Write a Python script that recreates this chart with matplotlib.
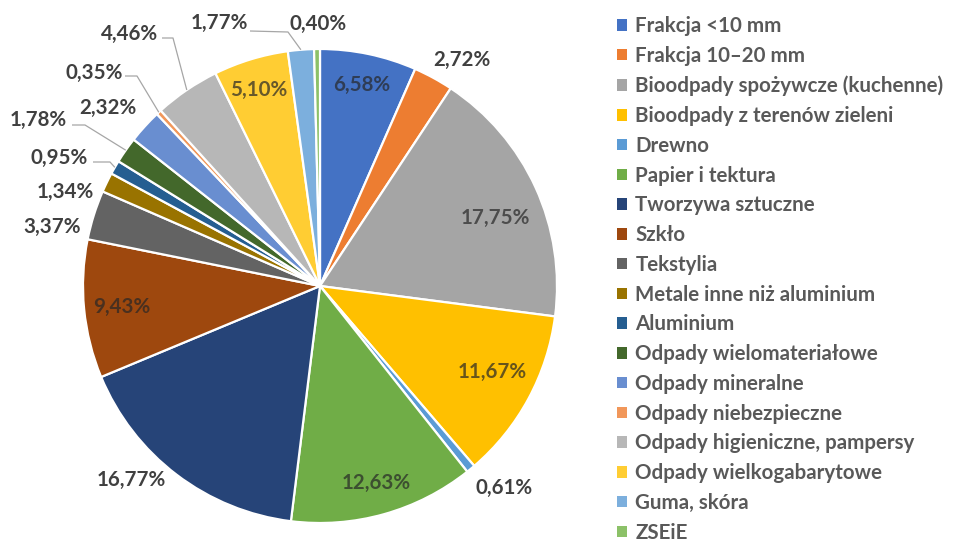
import matplotlib
matplotlib.use('Agg')
import matplotlib.pyplot as plt
from matplotlib.patches import Patch
import numpy as np

# ── Data ────────────────────────────────────────────────────────
categories = [
    'Frakcja <10 mm', 'Frakcja 10–20 mm', 'Bioodpady spożywcze (kuchenne)',
    'Bioodpady z terenów zieleni', 'Drewno', 'Papier i tektura',
    'Tworzywa sztuczne', 'Szkło', 'Tekstylia', 'Metale inne niż aluminium',
    'Aluminium', 'Odpady wielomateriałowe', 'Odpady mineralne',
    'Odpady niebezpieczne', 'Odpady higieniczne, pampersy',
    'Odpady wielkogabarytowe', 'Guma, skóra', 'ZSEiE',
]
shares = [6.58, 2.72, 17.75, 11.67, 0.61, 12.63, 16.77, 9.43, 3.37,
          1.34, 0.95, 1.78, 2.32, 0.35, 4.46, 5.10, 1.77, 0.40]

colors = ['#4472C4', '#ED7D31', '#A5A5A5', '#FFC000', '#5B9BD5', '#70AD47',
          '#264478', '#9E480E', '#636363', '#997300', '#255E91', '#43682B',
          '#698ED0', '#F1975A', '#B7B7B7', '#FFCD33', '#7CAFDD', '#8CC168']

# ── Layout (pixels of the 956x546 picture) ─────────────────────
W, H = 956, 546
CX, CY, R = 320, 286, 237

# label centres
label_pos = [(362, 85), (462, 60), (495, 218), (492, 372), (504, 488),
             (376, 483), (131, 480), (122, 307), (52, 227), (65, 192),
             (59, 158), (38, 120), (108, 108), (94, 73), (130, 34),
             (259, 90), (219, 23), (318, 24)]
inside = {0, 2, 3, 5, 7, 15}
# leader lines: index -> (start, elbow)
leaders = {10: ((93, 162), (110, 162)),
           11: ((72, 125), (85, 125)),
           13: ((125, 76), (137, 76)),
           14: ((162, 38), (173, 38)),
           16: ((250, 31), (288, 32))}


def to_data(x, y):
    return (x - CX) / R, (CY - y) / R


def darken(hexcol, k=0.3):
    c = np.array(matplotlib.colors.to_rgb(hexcol))
    return tuple(k * c + (1 - k) * np.array([0.15, 0.15, 0.15]))


fig = plt.figure(figsize=(W / 100, H / 100), dpi=100)
ax = fig.add_axes([0, 0, 1, 1])
ax.pie(shares, colors=colors, startangle=90, counterclock=False, radius=1,
       wedgeprops=dict(edgecolor='white', linewidth=1.6))
ax.set_aspect('auto')
ax.set_xlim(-CX / R, (W - CX) / R)
ax.set_ylim(-(H - CY) / R, CY / R)
ax.axis('off')

font = 'Lato'
cum = np.cumsum([0] + shares[:-1])
for i, v in enumerate(shares):
    txt = f'{v:.2f}%'.replace('.', ',')
    x, y = to_data(*label_pos[i])
    col = darken(colors[i]) if i in inside else '#404040'
    ax.text(x, y, txt, ha='center', va='center', fontsize=14.8,
            fontweight='bold', color=col, family=font)
    if i in leaders:
        ang = np.deg2rad(90 - 360 * (cum[i] + v / 2) / 100)
        (sx, sy), (ex, ey) = leaders[i]
        p0 = to_data(sx, sy)
        p1 = to_data(ex, ey)
        ax.plot([p0[0], p1[0], np.cos(ang)], [p0[1], p1[1], np.sin(ang)],
                color='#A6A6A6', lw=0.9, solid_capstyle='butt')

handles = [Patch(facecolor=c, edgecolor='none') for c in colors]
leg = fig.legend(handles, categories, loc='upper left',
                 bbox_to_anchor=(609 / W, 1 - 8 / H), frameon=False,
                 prop=dict(family=font, weight='bold', size=14.8),
                 labelcolor='#595959', handlelength=0.48, handleheight=0.48,
                 handletextpad=0.4, labelspacing=0.475, borderaxespad=0)

fig.savefig('out.png', dpi=100)
